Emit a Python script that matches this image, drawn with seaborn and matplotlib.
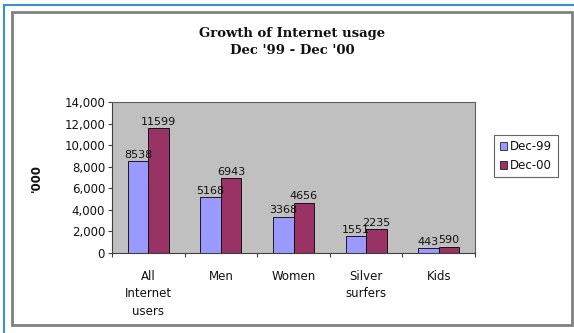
import matplotlib
matplotlib.use("Agg")
import matplotlib.pyplot as plt
import seaborn as sns
import pandas as pd
import numpy as np
from matplotlib.patches import Rectangle
from matplotlib.lines import Line2D

categories = ["All\nInternet\nusers", "Men", "Women", "Silver\nsurfers", "Kids"]
series = ["Dec-99", "Dec-00"]
dec99 = [8538, 5168, 3368, 1551, 443]
dec00 = [11599, 6943, 4656, 2235, 590]
yticks = [0, 2000, 4000, 6000, 8000, 10000, 12000, 14000]

sns.set_style("white")
plt.rcParams['font.family'] = ['DejaVu Sans']
plt.rcParams['text.color'] = '#111111'
plt.rcParams['xtick.color'] = '#111111'
plt.rcParams['ytick.color'] = '#111111'
plt.rcParams['axes.labelcolor'] = '#111111'

df = pd.DataFrame({
    "category": categories * 2,
    "series": [series[0]] * len(categories) + [series[1]] * len(categories),
    "value": dec99 + dec00,
})

fig = plt.figure(figsize=(5.74, 3.33), dpi=100)
# frames
fig.add_artist(Line2D([4/574, 1], [1 - 5/333, 1 - 5/333], color="#3b8fd0", lw=1.5, transform=fig.transFigure))
fig.add_artist(Line2D([4/574, 4/574], [0, 1 - 5/333], color="#3b8fd0", lw=1.5, transform=fig.transFigure))
fig.add_artist(Rectangle((12/574, 1 - 325/333), 560/574, 313/333, fill=False,
                         edgecolor="#808080", lw=2, transform=fig.transFigure))

ax = fig.add_axes([112/574, 1 - 253/333, 363/574, 151/333])
ax.set_facecolor("#c0c0c0")
palette = {"Dec-99": "#9999ff", "Dec-00": "#993366"}
sns.barplot(data=df, x="category", y="value", hue="series", palette=palette,
            width=0.565, edgecolor="black", linewidth=0.6, ax=ax, legend=False,
            saturation=1)
for cont in ax.containers:
    ax.bar_label(cont, fmt="%d", fontsize=8, padding=1, color="#111111")

ax.set_xlim(-0.5, len(categories) - 0.5)
ax.set_ylim(0, 14000)
ax.set_yticks(yticks)
ax.set_yticklabels([f"{v:,}" for v in yticks], fontsize=8.5)
ax.tick_params(axis="y", length=3, width=0.8, color="#404040", pad=2, left=True)
ax.set_xticks(range(len(categories)))
ax.set_xticklabels(categories, fontsize=8.5, va="top", linespacing=1.45)
ax.tick_params(axis="x", which="major", length=0, pad=12)
ax.set_xticks(np.arange(-0.5, len(categories), 1), minor=True)
ax.tick_params(axis="x", which="minor", length=3, width=0.8, color="#404040", bottom=True)
ax.set_xlabel("")
ax.set_ylabel("'000", fontsize=8.5, fontweight="bold")
ax.yaxis.set_label_coords(-0.19, 0.5)
for s in ax.spines.values():
    s.set_color("#606060")
    s.set_linewidth(0.8)
ax.spines["left"].set_color("#404040")
ax.spines["bottom"].set_color("#404040")

fig.text(292/574, 1 - 42/333, "Growth of Internet usage\nDec '99 - Dec '00", ha="center", va="center",
         fontsize=9.5, fontweight="bold", family=["DejaVu Serif"], linespacing=1.45)

handles = [Rectangle((0, 0), 1, 1, facecolor=palette[s], edgecolor="black", lw=0.5) for s in series]
leg = fig.legend(handles, series, loc="center", bbox_to_anchor=(526/574, 1 - 156/333),
                 fontsize=8.5, frameon=True, fancybox=False, edgecolor="#404040",
                 handlelength=0.6, handleheight=0.6, handletextpad=0.3, borderpad=0.45,
                 labelspacing=0.5)
leg.get_frame().set_linewidth(0.8)

fig.savefig("out.png", dpi=100)
